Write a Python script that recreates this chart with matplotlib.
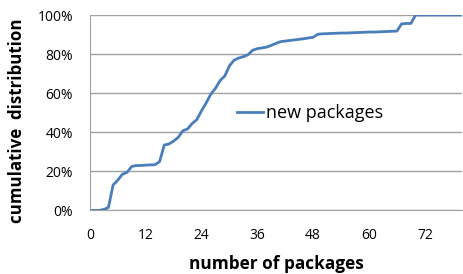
import numpy as np
import matplotlib.pyplot as plt
from matplotlib.ticker import FuncFormatter

packages = list(range(0, 81))
cdf = [0, 0, 0, 0.5, 1.5, 13, 15.5, 18.5, 19.5, 22.5,
       23, 23, 23.2, 23.3, 23.4, 25, 33.5, 34, 35.5, 37.4,
       40.8, 41.7, 44.5, 46.5, 51, 55, 59.5, 62.5, 66.5, 68.8,
       74, 76.9, 78, 78.7, 79.7, 82, 82.8, 83.2, 83.6, 84.5,
       85.5, 86.4, 86.7, 87, 87.3, 87.6, 87.9, 88.3, 88.6, 90.2,
       90.4, 90.5, 90.6, 90.7, 90.8, 90.8, 90.9, 91, 91.1, 91.2,
       91.3, 91.3, 91.4, 91.5, 91.6, 91.7, 91.8, 95.5, 95.7, 95.7,
       100, 100, 100, 100, 100, 100, 100, 100, 100, 100, 100]
xticks = [0, 12, 24, 36, 48, 60, 72]
yticks = [0, 20, 40, 60, 80, 100]

plt.rcParams['font.family'] = ['Open Sans', 'DejaVu Sans']

fig = plt.figure(figsize=(4.63, 2.74), dpi=100)
ax = fig.add_axes([0.194, 0.232, 0.804, 0.713])

ax.plot(packages, cdf, color='#4A7EBB', lw=2.0, label='new packages')

ax.set_xlim(0, 80)
ax.set_ylim(0, 100)
ax.set_xticks(xticks)
ax.set_yticks(yticks)
ax.yaxis.set_major_formatter(FuncFormatter(lambda v, p: f"{v:.0f}%"))
ax.tick_params(length=0, labelsize=10, colors='black')
ax.tick_params(axis='x', pad=13)
ax.tick_params(axis='y', pad=12)
ax.grid(axis='y', color='#A0A0A0', lw=1)
ax.set_axisbelow(True)
for s in ['top', 'right']:
    ax.spines[s].set_visible(False)
ax.spines['left'].set_color('#A0A0A0')
ax.spines['bottom'].set_color('#A0A0A0')

ax.set_xlabel('number of packages', fontsize=12.4, fontweight='bold', va='center')
ax.set_ylabel('cumulative  distribution', fontsize=12.2, fontweight='bold', va='center')
ax.xaxis.set_label_coords(0.5, -0.272)
ax.yaxis.set_label_coords(-0.196, 0.458)

ax.legend(loc='center left', bbox_to_anchor=(0.351, 0.497), frameon=False,
          fontsize=13, handlelength=1.45, handletextpad=0.17)

fig.savefig('out.png', dpi=100)
